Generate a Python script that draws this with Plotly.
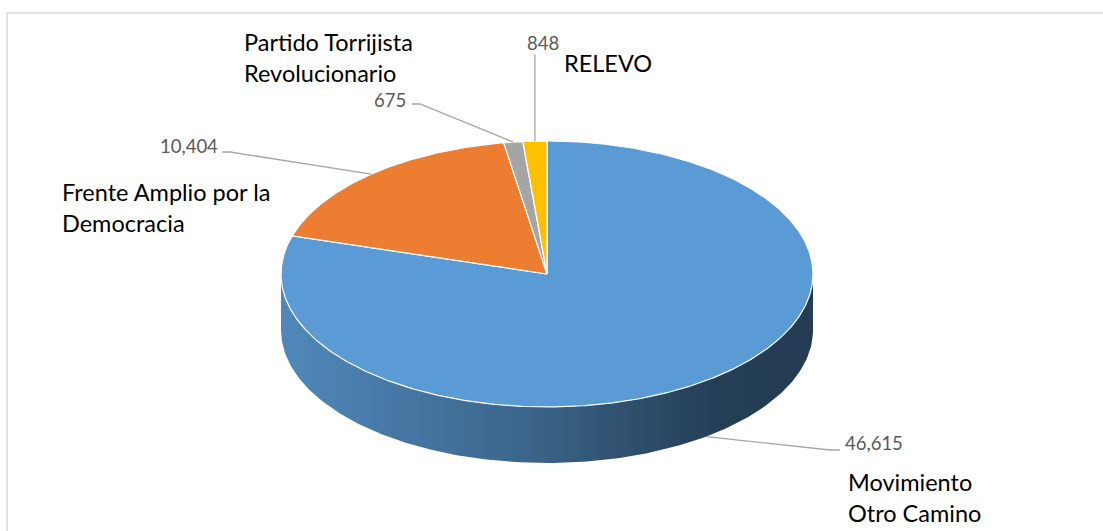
import numpy as np
import plotly.graph_objects as go

# ---- data ----
categories = ["Movimiento Otro Camino", "Frente Amplio por la Democracia",
              "Partido Torrijista Revolucionario", "RELEVO"]
label_text = ["Movimiento<br>Otro Camino", "Frente Amplio por la<br>Democracia",
              "Partido Torrijista<br>Revolucionario", "RELEVO"]
values = [46615, 10404, 675, 848]
colors = ["#5B9BD5", "#ED7D31", "#A5A5A5", "#FFC000"]

# ---- layout / geometry (pixel space) ----
W, H = 1103, 531
CX, CY = 547, 274      # centre of top ellipse
RX, RY = 266, 133      # radii of top ellipse
DEPTH = 56             # thickness of the pie

FONT = "Lato"
NAME_SIZE = 23.5
VAL_SIZE = 18.5

# label placement
label_pos = {
    "Movimiento Otro Camino": dict(nx=846, ny=497, vx=843, vy=443, knee=(830, 450), end=(840, 450), vanchor="left"),
    "Frente Amplio por la Democracia": dict(nx=60, ny=207, vx=220, vy=146, knee=(230, 152), end=(222, 152), vanchor="right"),
    "Partido Torrijista Revolucionario": dict(nx=242, ny=57, vx=408, vy=100, knee=(420, 104), end=(412, 104), vanchor="right"),
    "RELEVO": dict(nx=562, ny=63, vx=543, vy=43, knee=None, end=None, vanchor="center"),
}


def pt(theta_deg, dy=0.0):
    t = np.radians(theta_deg)
    return CX + RX * np.sin(t), CY - RY * np.cos(t) + dy


def shade(hexcol, f):
    h = hexcol.lstrip("#")
    r, g, b = (int(h[i:i + 2], 16) for i in (0, 2, 4))
    return "rgb(%d,%d,%d)" % (r * f, g * f, b * f)


total = float(sum(values))
angles = np.cumsum([0] + [v / total * 360 for v in values])

fig = go.Figure()

# ---- side walls (front half: 90..270 deg clockwise from top) ----
for i, cat in enumerate(categories):
    a0, a1 = max(angles[i], 90), min(angles[i + 1], 270)
    if a1 <= a0:
        continue
    th = np.linspace(a0, a1, 200)
    xt, yt = pt(th)
    xb, yb = pt(th[::-1], DEPTH)
    xs = np.concatenate([xt, xb, xt[:1]])
    ys = np.concatenate([yt, yb, yt[:1]])
    fig.add_trace(go.Scatter(
        x=xs, y=ys, mode="lines", fill="toself", line=dict(width=0),
        fillgradient=dict(type="horizontal", start=CX - RX, stop=CX + RX,
                          colorscale=[[0, shade(colors[i], 0.88)],
                                      [0.45, shade(colors[i], 0.66)],
                                      [0.82, shade(colors[i], 0.40)],
                                      [1, shade(colors[i], 0.39)]]),
        hoverinfo="skip", showlegend=False))

# ---- top faces ----
for i, cat in enumerate(categories):
    th = np.linspace(angles[i], angles[i + 1], max(int((angles[i + 1] - angles[i]) * 3), 8))
    x, y = pt(th)
    xs = np.concatenate([[CX], x, [CX]])
    ys = np.concatenate([[CY], y, [CY]])
    fig.add_trace(go.Scatter(
        x=xs, y=ys, mode="lines", fill="toself", fillcolor=colors[i],
        line=dict(color="white", width=1.2), name=cat,
        text=f"{cat}: {values[i]:,}", hoverinfo="text", showlegend=False))

# ---- leader lines and labels ----
annotations = []
for i, cat in enumerate(categories):
    mid = (angles[i] + angles[i + 1]) / 2
    front = 90 < mid < 270
    ax, ay = pt(mid, DEPTH if front else 0)
    p = label_pos[cat]
    if p["knee"] is not None:
        lx = [ax, p["knee"][0], p["end"][0]]
        ly = [ay, p["knee"][1], p["end"][1]]
    else:
        lx = [ax, ax]
        ly = [ay, p["vy"] + 11]
    fig.add_trace(go.Scatter(x=lx, y=ly, mode="lines",
                             line=dict(color="#A6A6A6", width=1.3),
                             hoverinfo="skip", showlegend=False))
    annotations.append(dict(x=p["vx"], y=p["vy"], xref="x", yref="y",
                            text=f"{values[i]:,}", showarrow=False,
                            xanchor=p["vanchor"], yanchor="middle",
                            font=dict(family=FONT, size=VAL_SIZE, color="#595959")))
    annotations.append(dict(x=p["nx"], y=p["ny"], xref="x", yref="y",
                            text=label_text[i], showarrow=False, align="left",
                            xanchor="left", yanchor="middle",
                            font=dict(family=FONT, size=NAME_SIZE, color="#000000")))

fig.update_layout(
    width=W, height=H,
    margin=dict(l=0, r=0, t=0, b=0),
    paper_bgcolor="white", plot_bgcolor="white",
    xaxis=dict(range=[0, W], visible=False, fixedrange=True),
    yaxis=dict(range=[H, 0], visible=False, fixedrange=True),
    annotations=annotations,
    shapes=[dict(type="rect", xref="x", yref="y", x0=7, y0=13, x1=W + 20, y1=H + 20,
                 line=dict(color="#D9D9D9", width=1.5), fillcolor="rgba(0,0,0,0)", layer="below")],
)

fig.write_html("out.html", config={"displayModeBar": False},
               post_script="document.body.style.margin='0';document.body.style.overflow='hidden';")
